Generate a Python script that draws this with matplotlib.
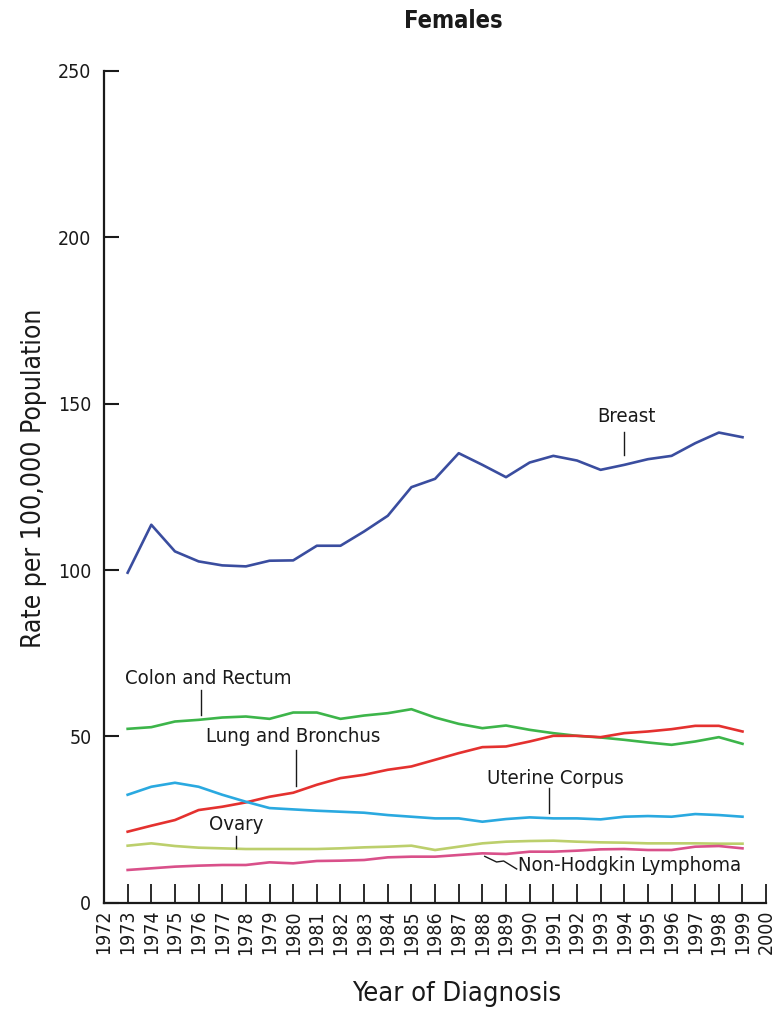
import matplotlib
matplotlib.use("Agg")
import matplotlib.pyplot as plt
from matplotlib import font_manager

names = {f.name for f in font_manager.fontManager.ttflist}
if "Liberation Sans Narrow" in names:
    plt.rcParams['font.family'] = ['Liberation Sans Narrow', 'DejaVu Sans']
else:
    plt.rcParams['font.family'] = ['DejaVu Sans']
    plt.rcParams['font.stretch'] = 'condensed'

years = list(range(1973, 2000))

breast = [99.2, 113.6, 105.6, 102.6, 101.4, 101.1, 102.8, 102.9, 107.3, 107.3,
          111.6, 116.3, 124.9, 127.4, 135.1, 131.6, 127.9, 132.3, 134.3, 132.9,
          130.1, 131.6, 133.3, 134.3, 138.1, 141.3, 139.9]
colon = [52.3, 52.8, 54.5, 55.0, 55.7, 56.0, 55.3, 57.2, 57.2, 55.3,
         56.3, 57.0, 58.2, 55.7, 53.8, 52.5, 53.3, 52.0, 51.0, 50.2,
         49.7, 49.0, 48.2, 47.5, 48.5, 49.8, 47.8]
lung = [21.4, 23.2, 24.9, 27.9, 28.9, 30.2, 31.9, 33.1, 35.5, 37.5,
        38.5, 40.0, 41.0, 43.0, 45.0, 46.8, 47.0, 48.5, 50.2, 50.2,
        49.8, 51.0, 51.5, 52.2, 53.2, 53.2, 51.5]
uterine = [32.5, 34.9, 36.1, 34.9, 32.5, 30.4, 28.5, 28.1, 27.7, 27.4,
           27.1, 26.4, 25.9, 25.4, 25.4, 24.4, 25.2, 25.7, 25.4, 25.4,
           25.1, 25.9, 26.1, 25.9, 26.7, 26.4, 25.9]
ovary = [17.2, 17.9, 17.1, 16.6, 16.4, 16.2, 16.2, 16.2, 16.2, 16.4,
         16.7, 16.9, 17.2, 15.9, 16.9, 17.9, 18.4, 18.6, 18.7, 18.4,
         18.2, 18.1, 17.9, 17.9, 17.9, 17.8, 17.8]
nhl = [9.9, 10.4, 10.9, 11.2, 11.4, 11.4, 12.2, 11.9, 12.6, 12.7,
       12.9, 13.7, 13.9, 13.9, 14.4, 14.9, 14.7, 15.4, 15.4, 15.7,
       16.1, 16.2, 15.9, 15.9, 16.9, 17.1, 16.4]

ink = '#1a1a1a'

fig = plt.figure(figsize=(7.79, 10.10), dpi=100)
ax = fig.add_axes([0.1335, 0.106, 0.85, 0.824])

lw = 1.9
ax.plot(years, breast, color='#3a4d9f', lw=lw)
ax.plot(years, colon, color='#3db54a', lw=lw)
ax.plot(years, lung, color='#e4312f', lw=lw)
ax.plot(years, uterine, color='#2aa9e0', lw=lw)
ax.plot(years, ovary, color='#bccf6c', lw=lw)
ax.plot(years, nhl, color='#d9508a', lw=lw)

# labels with leader lines
fs = 14.6
def label(text, tx, ty, x0, y0, x1, y1, ha='center'):
    ax.text(tx, ty, text, ha=ha, va='center', fontsize=fs, color=ink)
    ax.plot([x0, x1], [y0, y1], color=ink, lw=1.0)

label('Breast', 1994.1, 146.0, 1994, 141.5, 1994, 134.6)
label('Colon and Rectum', 1976.4, 67.5, 1976.1, 64.0, 1976.1, 56.5)
label('Lung and Bronchus', 1980.0, 50.0, 1980.1, 46.0, 1980.1, 35.0)
label('Uterine Corpus', 1991.1, 37.5, 1990.8, 34.5, 1990.8, 27.0)
label('Ovary', 1977.6, 23.5, 1977.6, 20.0, 1977.6, 16.5)
ax.text(1989.5, 11.1, 'Non-Hodgkin Lymphoma', ha='left', va='center',
        fontsize=fs, color=ink)
ax.plot([1988.1, 1988.6, 1988.9, 1989.45], [14.0, 12.3, 12.6, 10.2],
        color=ink, lw=1.0)

ax.set_xlim(1972, 2000)
ax.set_ylim(0, 250)
ax.set_xticks(range(1972, 2001))
ax.set_xticklabels([str(y) for y in range(1972, 2001)], rotation=90,
                   fontsize=14)
ax.set_yticks([0, 50, 100, 150, 200, 250])
ax.tick_params(axis='y', direction='in', length=11, width=1.5, labelsize=14,
               pad=9, colors=ink)
ax.tick_params(axis='x', direction='in', length=14, width=1.3, pad=5,
               colors=ink)
for s in ['top', 'right']:
    ax.spines[s].set_visible(False)
for s in ['left', 'bottom']:
    ax.spines[s].set_linewidth(1.6)
    ax.spines[s].set_color(ink)

ax.set_ylabel('Rate per 100,000 Population', fontsize=19, color=ink)
ax.yaxis.set_label_coords(-0.086, 0.51)
ax.set_xlabel('Year of Diagnosis', fontsize=19.5, color=ink)
ax.xaxis.set_label_coords(0.532, -0.094)
fig.text(453 / 779, 1 - 21 / 1010, 'Females', ha='center', va='center',
         fontsize=17, fontweight='bold', color=ink)

fig.savefig('out.png', dpi=100)
